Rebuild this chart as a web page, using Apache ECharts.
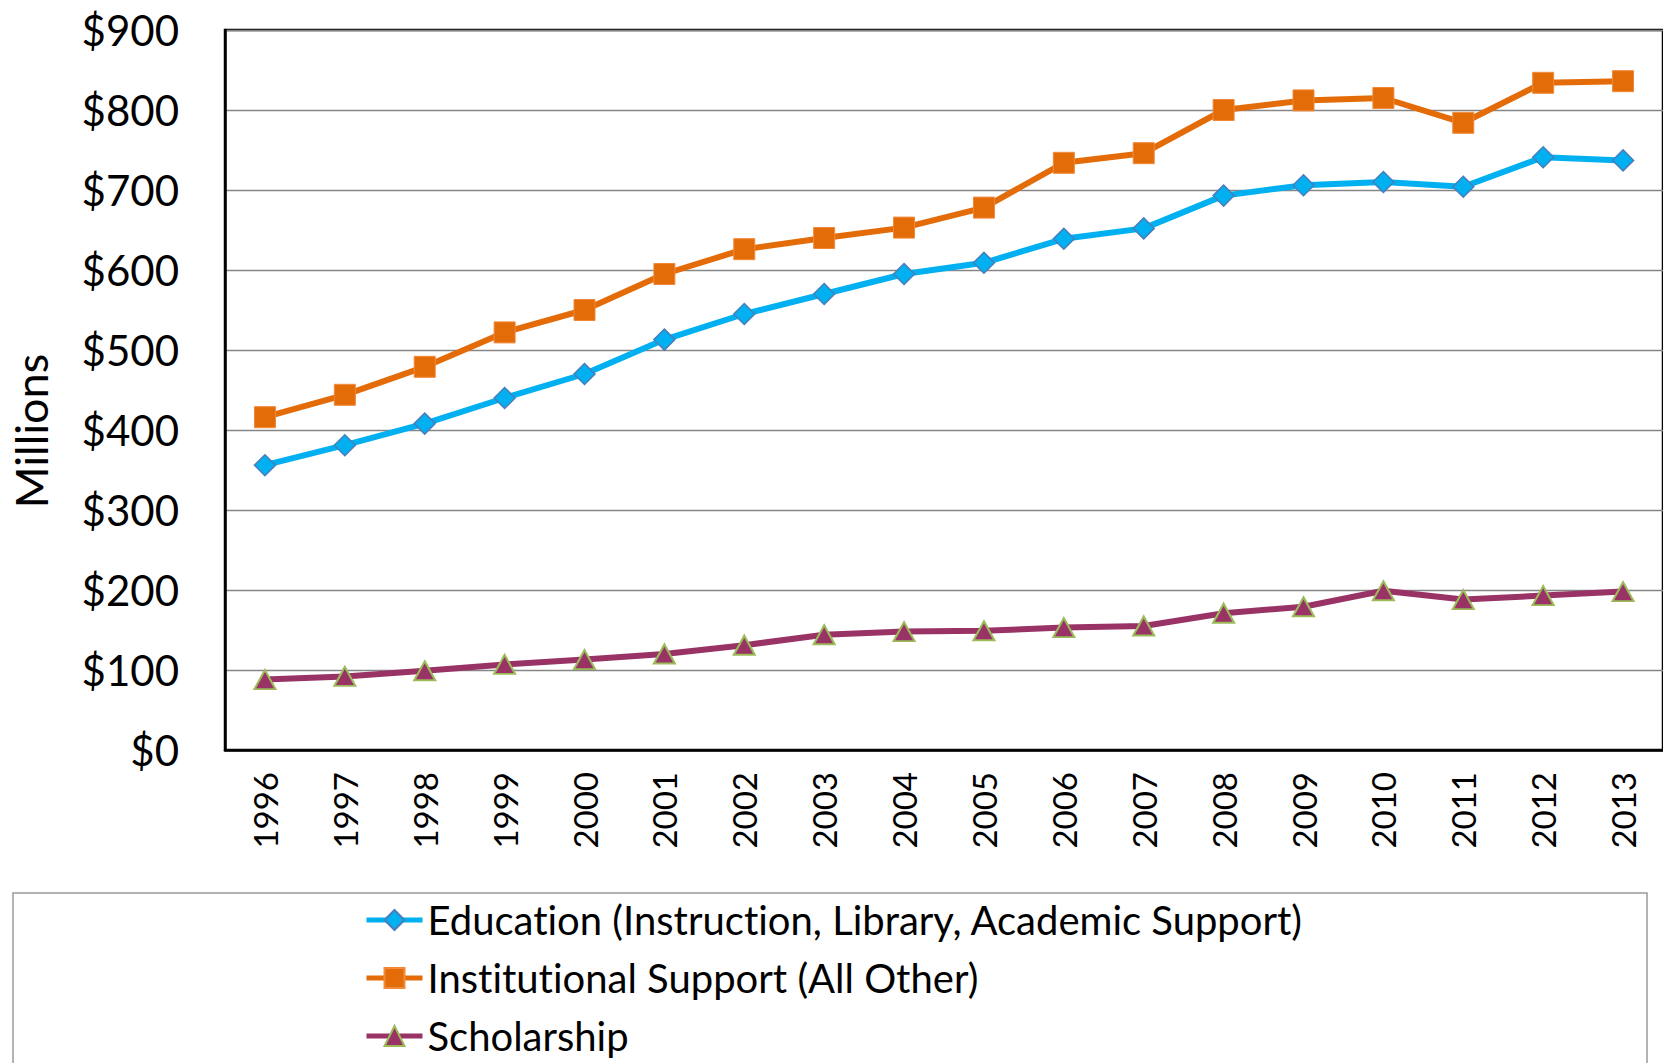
<!DOCTYPE html>
<html>
<head>
<meta charset="utf-8">
<script src="https://cdn.jsdelivr.net/npm/echarts@6/dist/echarts.min.js"></script>
<style>
html,body{margin:0;padding:0;background:#fff;}
#c1{width:1663px;height:1063px;font-variant-ligatures:none;font-feature-settings:"liga" 0;}
</style>
</head>
<body>
<div id="c1"></div>
<script>
// years on the x axis
const years = ['1996','1997','1998','1999','2000','2001','2002','2003','2004','2005','2006','2007','2008','2009','2010','2011','2012','2013'];
// spending, millions of dollars
const education = [356, 381, 408, 440, 470, 513, 545, 570, 595, 609, 639, 652, 693, 706, 710, 704, 741, 737];
const institutional = [416, 444, 479, 522, 550, 595, 626, 640, 653, 678, 734, 746, 800, 812, 815, 784, 834, 836];
const scholarship = [88, 92, 99, 107, 113, 120, 131, 144, 148, 149, 153, 155, 171, 179, 199, 188, 193, 198];
const seriesNames = ['Education (Instruction, Library, Academic Support)', 'Institutional Support (All Other)', 'Scholarship'];

const font = 'Lato';
// svg so the css above can switch off the "ti" ligature
let chart = echarts.init(document.getElementById('c1'), null, {renderer: 'svg'});
let option = {
    backgroundColor: '#fff',
    animation: false,
    grid: {
        left: 225,
        top: 30,
        width: 1440,
        height: 720,
        show: true,
        borderColor: '#000',
        borderWidth: 2.5,
        backgroundColor: 'transparent'
    },
    legend: {
        orient: 'vertical',
        left: 359,
        top: 895,
        height: 300,
        itemWidth: 56,
        itemHeight: 25,
        itemGap: 18,
        lineStyle: {width: 5},
        textStyle: {
            fontFamily: font,
            fontSize: 40,
            lineHeight: 38,
            color: '#000'
        },
        data: seriesNames
    },
    graphic: [{
        type: 'rect',
        shape: {x: 13, y: 893, width: 1634, height: 200},
        style: {fill: 'none', stroke: '#9a9a9a', lineWidth: 1.5},
        z: -1
    }, {
        type: 'text',
        x: 31,
        y: 431,
        rotation: Math.PI / 2,
        style: {
            text: 'Millions',
            font: '45px Lato',
            fill: '#000',
            align: 'center',
            verticalAlign: 'middle'
        }
    }],
    xAxis: {
        type: 'category',
        data: years,
        boundaryGap: true,
        axisLine: {lineStyle: {color: '#000', width: 2.5}},
        axisTick: {show: false},
        axisLabel: {
            rotate: 90,
            margin: 22,
            fontFamily: font,
            fontSize: 33,
            color: '#000'
        }
    },
    yAxis: {
        type: 'value',
        min: 0,
        max: 900,
        interval: 100,
        axisLine: {show: true, lineStyle: {color: '#000', width: 2.5}},
        axisTick: {show: false},
        splitLine: {lineStyle: {color: '#868686', width: 1.3}},
        axisLabel: {
            margin: 46,
            fontFamily: font,
            fontSize: 42,
            color: '#000',
            formatter: function(v){ return '$' + v; }
        }
    },
    series: [{
        name: seriesNames[0],
        type: 'line',
        data: education,
        symbol: 'diamond',
        symbolSize: 21,
        lineStyle: {color: '#00B0F0', width: 6},
        itemStyle: {color: '#00B0F0', borderColor: '#4A7EBB', borderWidth: 1.5}
    }, {
        name: seriesNames[1],
        type: 'line',
        data: institutional,
        symbol: 'rect',
        symbolSize: 21,
        lineStyle: {color: '#E36C09', width: 6},
        itemStyle: {color: '#E36C09', borderColor: '#F08A3C', borderWidth: 1}
    }, {
        name: seriesNames[2],
        type: 'line',
        data: scholarship,
        symbol: 'triangle',
        symbolSize: [21, 19],
        lineStyle: {color: '#993366', width: 6},
        itemStyle: {color: '#993366', borderColor: '#9BBB59', borderWidth: 2}
    }]
};
chart.setOption(option);
</script>
</body>
</html>
